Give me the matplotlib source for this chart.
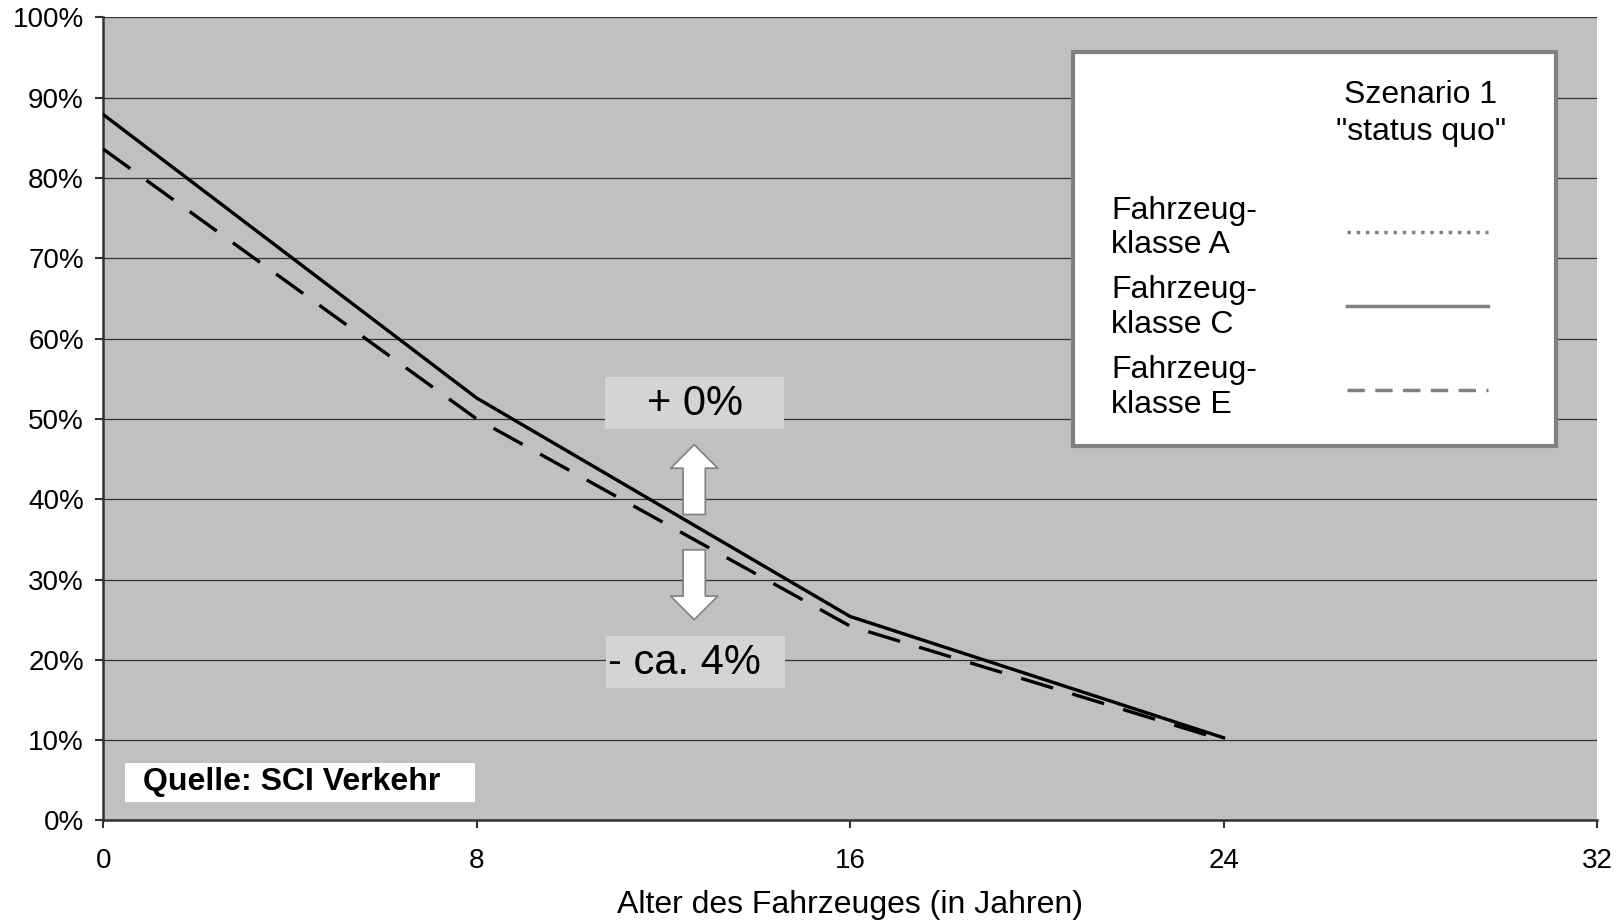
import numpy as np
import matplotlib.pyplot as plt
from matplotlib.patches import Rectangle
from matplotlib.lines import Line2D

plt.rcParams['font.family'] = ['Liberation Sans', 'DejaVu Sans']

# data
alter = [0, 8, 16, 24]
klasse_a = [87.9, 52.6, 25.4, 10.3]  # same as C (+0%), hidden under C
klasse_c = [87.9, 52.6, 25.4, 10.3]
klasse_e = [83.6, 50.0, 24.2, 10.0]
xticks = [0, 8, 16, 24, 32]
yticks = np.arange(0, 101, 10)

fig = plt.figure(figsize=(16.23, 9.22), dpi=100)
ax = fig.add_axes([0.0636, 0.1101, 0.9204, 0.8711])
ax.set_facecolor('#c0c0c0')

ax.plot(alter, klasse_a, color='#808080', lw=2.2, ls=':', zorder=3)
ax.plot(alter, klasse_c, color='black', lw=2.4, zorder=4)
ax.plot(alter, klasse_e, color='black', lw=2.4, ls=(0, (10, 6)), zorder=4)

ax.set_xlim(0, 32)
ax.set_ylim(0, 100)
ax.set_xticks(xticks)
ax.set_yticks(yticks)
ax.set_yticklabels(['%d%%' % v for v in yticks])
ax.tick_params(labelsize=20, length=6, width=1.5, color='#333333')
ax.tick_params(axis='x', pad=14)
ax.tick_params(axis='y', pad=8)
ax.grid(axis='y', color='#333333', lw=0.9)
ax.set_axisbelow(True)
for s in ['top', 'right']:
    ax.spines[s].set_visible(False)
for s in ['left', 'bottom']:
    ax.spines[s].set_color('#333333')
    ax.spines[s].set_linewidth(1.8)
ax.set_xlabel('Alter des Fahrzeuges (in Jahren)', fontsize=23, labelpad=11)

# annotation boxes
ax.add_patch(Rectangle((10.75, 48.7), 3.84, 6.5, facecolor='#d4d4d4', edgecolor='none', zorder=5))
ax.text(12.67, 51.9, '+ 0%', fontsize=30, ha='center', va='center', zorder=6)
ax.add_patch(Rectangle((10.77, 16.5), 3.84, 6.5, facecolor='#d4d4d4', edgecolor='none', zorder=5))
ax.text(10.82, 19.6, '- ca. 4%', fontsize=30, ha='left', va='center', zorder=6)

# arrows
arrow_style = 'simple,head_length=1.7,head_width=3.4,tail_width=1.6'
ax.annotate('', xy=(12.66, 46.8), xytext=(12.66, 38.1),
            arrowprops=dict(arrowstyle=arrow_style, mutation_scale=10, fc='white',
                            ec='#808080', lw=1.2, shrinkA=0, shrinkB=0), zorder=6)
ax.annotate('', xy=(12.66, 25.0), xytext=(12.66, 33.7),
            arrowprops=dict(arrowstyle=arrow_style, mutation_scale=10, fc='white',
                            ec='#808080', lw=1.2, shrinkA=0, shrinkB=0), zorder=6)

# source box
ax.add_patch(Rectangle((0.47, 2.3), 7.5, 4.85, facecolor='white', edgecolor='none', zorder=5))
ax.text(0.86, 4.8, 'Quelle: SCI Verkehr', fontsize=23, fontweight='bold', va='center', zorder=6)

# legend drawn by hand
fig.patches.append(Rectangle((0.661, 0.5163), 0.2976, 0.4273, transform=fig.transFigure,
                             facecolor='white', edgecolor='#808080', lw=3, zorder=10))
fig.text(0.8755, 0.8765, 'Szenario 1\n"status quo"', fontsize=23, ha='center', va='center',
         linespacing=1.3, zorder=11)
leg_names = ['Fahrzeug-\nklasse A', 'Fahrzeug-\nklasse C', 'Fahrzeug-\nklasse E']
leg_styles = [':', '-', (0, (5, 3))]
leg_y_text = [0.7525, 0.6665, 0.580]
leg_y_line = [0.748, 0.668, 0.577]
for name, st, yt, yl in zip(leg_names, leg_styles, leg_y_text, leg_y_line):
    fig.text(0.6846, yt, name, fontsize=23, va='center', linespacing=1.2, zorder=11)
    fig.lines.append(Line2D([0.830, 0.917], [yl, yl], transform=fig.transFigure,
                            color='#808080', lw=2.5, ls=st, zorder=11))

fig.savefig('out.png')
